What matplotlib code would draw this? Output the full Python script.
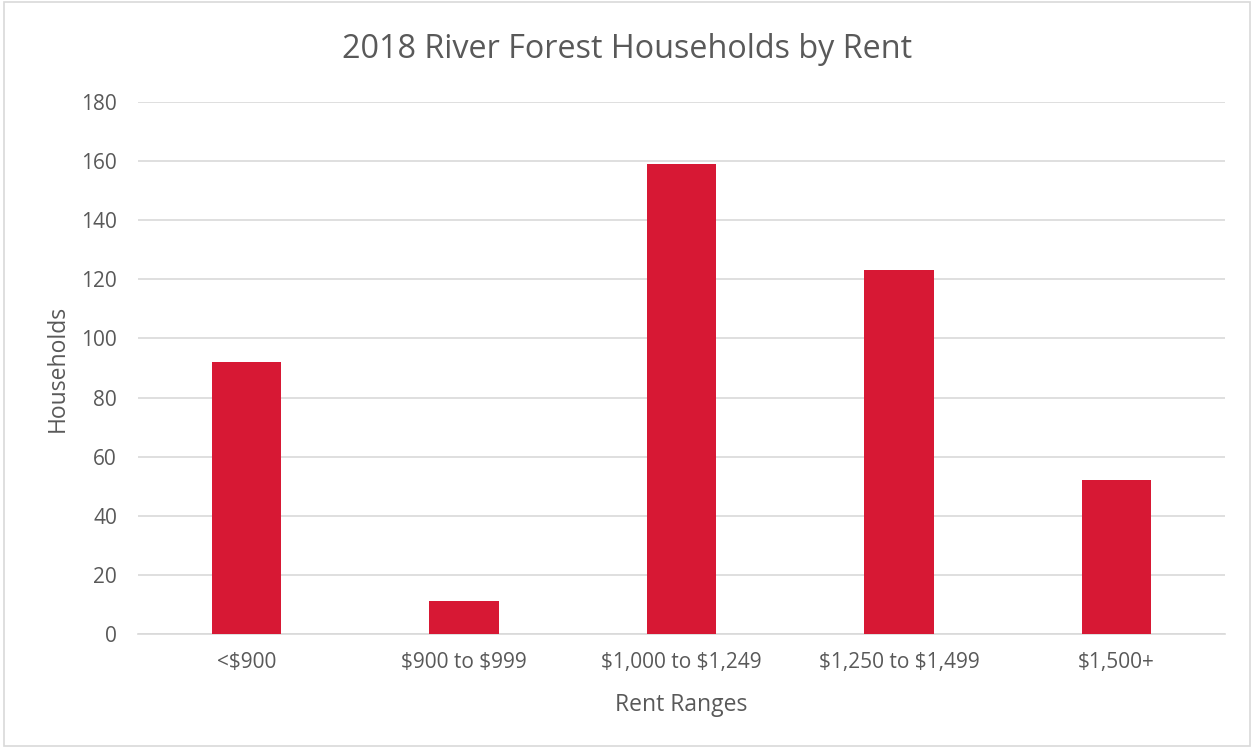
import matplotlib
matplotlib.use("Agg")
import matplotlib.pyplot as plt
from matplotlib.patches import Rectangle

categories = ["<$900", "$900 to $999", "$1,000 to $1,249", "$1,250 to $1,499", "$1,500+"]
households = [92, 11, 159, 123, 52]

plt.rcParams['font.family'] = ['Open Sans', 'DejaVu Sans']
plt.rcParams['text.parse_math'] = False
txt = '#595959'

fig = plt.figure(figsize=(12.54, 7.48), dpi=100)
ax = fig.add_axes([0.110, 0.1524, 0.867, 0.7112])
x = range(len(categories))
ax.bar(x, households, width=0.32, color='#D71834', zorder=3)
ax.set_xlim(-0.5, len(categories) - 0.5)
ax.set_ylim(0, 180)
ax.set_yticks(range(0, 181, 20))
ax.set_xticks(list(x))
ax.set_xticklabels(categories)
ax.grid(axis='y', color='#D9D9D9', linewidth=1.2, zorder=0)
for s in ['top', 'right', 'left']:
    ax.spines[s].set_visible(False)
ax.spines['bottom'].set_color('#D9D9D9')
ax.spines['bottom'].set_linewidth(1.2)
ax.tick_params(axis='both', length=0, colors=txt, labelsize=15)
ax.tick_params(axis='y', pad=15)
ax.tick_params(axis='x', pad=13)
ax.set_ylabel('Households', color=txt, fontsize=16.5, labelpad=8)
ax.set_xlabel('Rent Ranges', color=txt, fontsize=16.5, labelpad=14)
fig.text(0.5, 0.934, '2018 River Forest Households by Rent', ha='center', va='center',
         fontsize=23.3, color=txt)
fig.patches.append(Rectangle((0.003, 0.003), 0.994, 0.994, transform=fig.transFigure,
                             fill=False, edgecolor='#D9D9D9', linewidth=1.2))
fig.savefig('out.png', dpi=100)
